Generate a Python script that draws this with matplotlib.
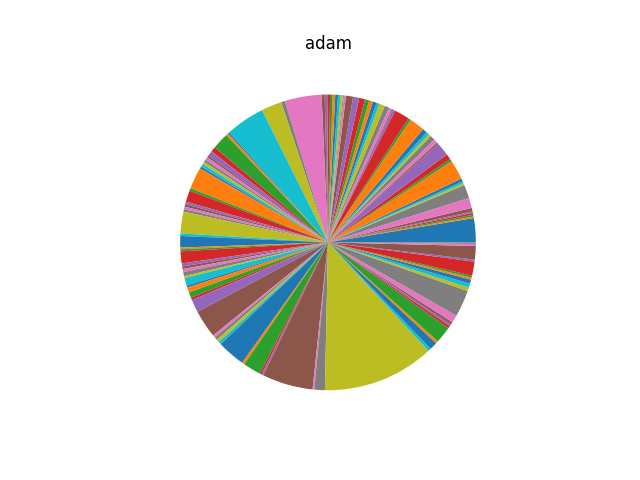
import matplotlib
matplotlib.use('Agg')
import matplotlib.pyplot as plt

title = 'adam'

# slice sizes, counter-clockwise from 3 o'clock (default colour cycle)
sizes = [9.5, 0.6, 0.7, 0.7, 0.6, 1.4, 4.0, 5.3, 0.8, 0.8,
         1.2, 7.7, 1.0, 2.2, 5.3, 0.7, 1.5, 2.0, 1.0, 1.2,
         1.8, 6.0, 1.0, 6.0, 1.0, 0.4, 1.2, 1.8, 2.2, 1.2,
         1.5, 1.5, 1.7, 2.3, 2.4, 2.8, 0.8, 0.4, 0.9, 1.0,
         1.1, 1.0, 1.0, 1.1, 1.0, 1.2, 14.5, 1.5, 8.0, 15.5,
         0.6, 0.9, 6.5, 2.0, 2.0, 0.8, 1.2, 1.0, 1.0, 1.2,
         0.8, 8.5, 1.0, 4.5, 1.0, 1.0, 1.0, 1.0, 8.5, 1.0,
         4.5, 0.7, 0.8, 4.7, 1.2, 1.0, 1.2, 1.6, 0.8, 3.0,
         0.8, 2.0, 2.2, 1.0, 5.0, 11.0, 1.0, 1.2, 1.2, 1.1,
         11.0, 1.0, 7.0, 0.8, 0.7, 20.0, 0.7, 4.1, 44.0, 1.2,
         3.0, 1.0, 6.5, 1.0, 0.8, 1.0, 3.0, 10.5, 1.4, 1.6,
         1.6, 0.8, 0.8, 5.5, 0.8, 5.3, 0.8, 0.6]

fig, ax = plt.subplots(figsize=(6.4, 4.8), dpi=100)
ax.pie(sizes)
ax.set_title(title)

plt.savefig('out.png')
